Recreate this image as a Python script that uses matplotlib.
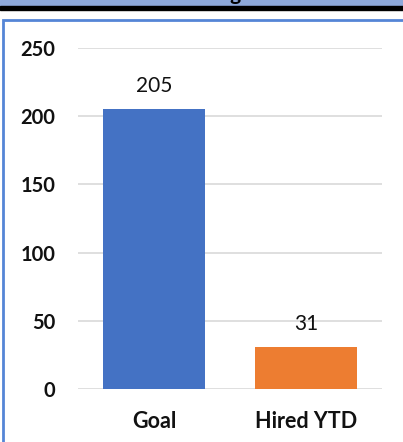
import matplotlib
matplotlib.use("Agg")
import matplotlib.pyplot as plt
from matplotlib.patches import Rectangle

categories = ["Goal", "Hired YTD"]
values = [205, 31]
colors = ["#4472C4", "#ED7D31"]
yticks = [0, 50, 100, 150, 200, 250]
title = "Hiring"

W, H = 403, 442
fig = plt.figure(figsize=(W/100, H/100), dpi=100)
fig.patch.set_facecolor("white")
plt.rcParams['font.family'] = ['Lato', 'DejaVu Sans']

def fy(py):  # pixel from top -> figure fraction
    return 1 - py / H
def fx(px):
    return px / W

# header band
fig.patches.append(Rectangle((0, fy(6)), 1, 6/H, transform=fig.transFigure, color="#8EA9DB", zorder=0))
fig.patches.append(Rectangle((0, fy(9.5)), 1, 3.5/H, transform=fig.transFigure, color="black", zorder=1))
fig.text(fx(241), fy(-0.5), title, ha="right", va="baseline", fontsize=15, fontweight="bold", color="black", zorder=0.5)
# box border
fig.patches.append(Rectangle((fx(3), fy(460)), 1, (460-20)/H, transform=fig.transFigure,
                             fill=False, edgecolor="#5585D6", linewidth=2, zorder=2))

ax = fig.add_axes([fx(78), fy(389), fx(382)-fx(78), (389-48)/H])
x = range(len(categories))
bars = ax.bar(x, values, width=0.665, color=colors, zorder=3)
ax.set_xlim(-0.5, len(categories) - 0.5)
ax.set_ylim(0, 250)
ax.set_yticks(yticks)
ax.set_yticklabels([str(t) for t in yticks], fontsize=14.5, fontweight="bold", color="#111111")
ax.set_xticks(list(x))
ax.set_xticklabels(categories, fontsize=15.5, fontweight="bold", color="#111111")
ax.tick_params(axis="both", length=0)
ax.tick_params(axis="y", pad=16.5)
ax.tick_params(axis="x", pad=16)
ax.grid(axis="y", color="#D9D9D9", linewidth=1.2, zorder=0)
for s in ax.spines.values():
    s.set_visible(False)
for b, v in zip(bars, values):
    ax.annotate(str(v), (b.get_x() + b.get_width()/2, v), xytext=(0, 9.5), textcoords="offset points",
                ha="center", va="bottom", fontsize=15, color="#111111")
fig.savefig("out.png", dpi=100)
